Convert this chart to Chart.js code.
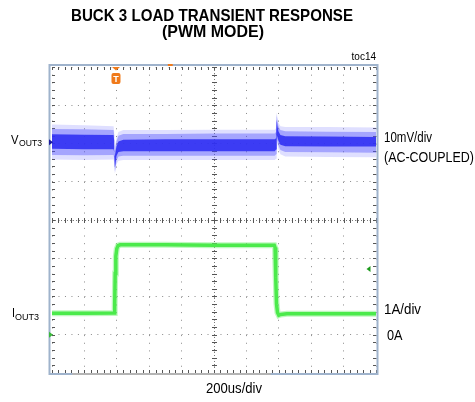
<!DOCTYPE html>
<html>
<head>
<meta charset="utf-8">
<script src="https://cdn.jsdelivr.net/npm/chart.js@4.4.1/dist/chart.umd.min.js"></script>
<style>
  body { margin: 0; background: #fff; }
  #wrap { width: 475px; height: 402px; }
</style>
</head>
<body>
<div id="wrap"><canvas id="scope" width="475" height="402"></canvas></div>
<script>
// --- DATA (time in us, 200us/div; y in screen divisions, 8 div tall) ---
const blueTime   = [0, 200, 380, 384, 388, 392, 398, 410, 440, 700, 1000, 1375, 1383, 1387, 1391, 1398, 1410, 1440, 1700, 2000];
const blueFuzzHi = [2.50, 2.48, 2.45, 2.30, 1.95, 2.00, 2.15, 2.30, 2.35, 2.35, 2.36, 2.36, 2.40, 2.82, 2.70, 2.55, 2.45, 2.43, 2.43, 2.42];
const blueMidHi  = [2.38, 2.37, 2.35, 2.22, 1.82, 1.90, 2.06, 2.20, 2.25, 2.25, 2.26, 2.26, 2.30, 2.75, 2.60, 2.45, 2.35, 2.32, 2.31, 2.30];
const blueCoreHi = [2.24, 2.23, 2.22, 2.08, 1.68, 1.78, 1.93, 2.05, 2.10, 2.11, 2.11, 2.11, 2.14, 2.62, 2.47, 2.32, 2.22, 2.19, 2.18, 2.17];
const blueCoreLo = [1.86, 1.85, 1.85, 1.77, 1.37, 1.47, 1.67, 1.78, 1.80, 1.80, 1.80, 1.80, 1.84, 2.22, 2.17, 2.07, 1.97, 1.93, 1.92, 1.92];
const blueMidLo  = [1.70, 1.69, 1.70, 1.62, 1.28, 1.36, 1.55, 1.66, 1.68, 1.68, 1.68, 1.68, 1.72, 2.10, 2.07, 1.95, 1.83, 1.78, 1.77, 1.76];
const blueFuzzLo = [1.58, 1.57, 1.58, 1.50, 1.22, 1.28, 1.45, 1.55, 1.57, 1.57, 1.57, 1.57, 1.60, 2.00, 1.98, 1.85, 1.72, 1.66, 1.65, 1.64];

const greenTime = [0, 200, 384, 387, 390, 394, 400, 408, 420, 700, 1000, 1372, 1377, 1381, 1386, 1392, 1400, 1412, 1450, 1700, 2000];
const greenVal  = [-2.44, -2.44, -2.43, -2.20, -1.40, -0.95, -0.75, -0.67, -0.65, -0.65, -0.66, -0.66, -0.72, -1.50, -2.20, -2.42, -2.49, -2.47, -2.45, -2.45, -2.45];

const xTicks = [0, 200, 400, 600, 800, 1000, 1200, 1400, 1600, 1800, 2000];
const yTicks = [-4, -3, -2, -1, 0, 1, 2, 3, 4];

const pts = (xs, ys) => xs.map((x, i) => ({ x: x, y: ys[i] }));

const F = '"Liberation Sans", Arial, sans-serif';

function band(hi, lo, hiIndex, color) {
    return [
        { data: pts(blueTime, hi), borderWidth: 0, pointRadius: 0, fill: false, tension: 0 },
        { data: pts(blueTime, lo), borderWidth: 0, pointRadius: 0, fill: hiIndex, backgroundColor: color, tension: 0 }
    ];
}

// narrow-font look: draw text squeezed to a given width
function fitText(ctx, txt, x, y, font, w) {
    ctx.font = font;
    const m = ctx.measureText(txt).width;
    ctx.save();
    ctx.translate(x, y);
    ctx.scale(w / m, 1);
    ctx.textAlign = 'left';
    ctx.textBaseline = 'alphabetic';
    ctx.fillText(txt, 0, 0);
    ctx.restore();
}

// --- SCOPE DECORATION (frame, center cross, edge ticks, markers, labels) ---
const scopeDeco = {
    id: 'scopeDeco',
    beforeDatasetsDraw(chart) {
        const { ctx, chartArea: a, scales: { x, y } } = chart;
        ctx.save();
        // center cross lines
        const cx = x.getPixelForValue(1000), cy = y.getPixelForValue(0);
        ctx.strokeStyle = '#7a7a7a';
        ctx.lineWidth = 1;
        ctx.setLineDash([1, 2]);
        ctx.beginPath();
        ctx.moveTo(a.left, cy + 0.5); ctx.lineTo(a.right, cy + 0.5);
        ctx.moveTo(cx + 0.5, a.top); ctx.lineTo(cx + 0.5, a.bottom);
        ctx.stroke();
        ctx.setLineDash([]);
        ctx.strokeStyle = '#555';
        ctx.beginPath();
        for (let t = 0; t <= 2000; t += 40) {
            const px = Math.round(x.getPixelForValue(t)) + 0.5;
            ctx.moveTo(px, cy - 2); ctx.lineTo(px, cy + 3);
            ctx.moveTo(px, a.top); ctx.lineTo(px, a.top + 3);
            ctx.moveTo(px, a.bottom); ctx.lineTo(px, a.bottom - 3);
        }
        for (let v = -4; v <= 4.001; v += 0.2) {
            const py = Math.round(y.getPixelForValue(v)) + 0.5;
            ctx.moveTo(cx - 2, py); ctx.lineTo(cx + 3, py);
            ctx.moveTo(a.left, py); ctx.lineTo(a.left + 3, py);
            ctx.moveTo(a.right, py); ctx.lineTo(a.right - 3, py);
        }
        ctx.stroke();
        ctx.restore();
    },
    afterDraw(chart) {
        const { ctx, chartArea: a, scales: { x, y } } = chart;
        ctx.save();
        // frame
        ctx.strokeStyle = '#9fb3cc';
        ctx.lineWidth = 2;
        ctx.strokeRect(a.left - 2.5, a.top - 2, a.right - a.left + 4, a.bottom - a.top + 3);
        // record bar at bottom
        ctx.strokeStyle = '#b4b4b4';
        ctx.beginPath();
        ctx.moveTo(x.getPixelForValue(125), a.bottom + 1);
        ctx.lineTo(x.getPixelForValue(1350), a.bottom + 1);
        ctx.stroke();
        // trigger position mark on top
        ctx.strokeStyle = '#f07a1a';
        ctx.beginPath();
        ctx.moveTo(x.getPixelForValue(715), a.top - 2);
        ctx.lineTo(x.getPixelForValue(745), a.top - 2);
        ctx.stroke();
        // trigger "T" marker
        const tx = x.getPixelForValue(395);
        ctx.fillStyle = '#f07a1a';
        ctx.beginPath();
        ctx.moveTo(tx - 4, a.top); ctx.lineTo(tx + 4, a.top); ctx.lineTo(tx, a.top + 3.5);
        ctx.fill();
        ctx.beginPath();
        ctx.roundRect(tx - 4.5, a.top + 6, 9, 11, 2);
        ctx.fill();
        ctx.fillStyle = '#fff';
        ctx.font = 'bold 9px ' + F;
        ctx.textAlign = 'center';
        ctx.fillText('T', tx, a.top + 15);
        // channel markers
        ctx.fillStyle = '#1a1aa0';
        let py = y.getPixelForValue(2.03);
        ctx.beginPath();
        ctx.moveTo(a.left - 3, py - 3); ctx.lineTo(a.left + 1, py); ctx.lineTo(a.left - 3, py + 3);
        ctx.fill();
        ctx.fillStyle = '#3ab83a';
        py = y.getPixelForValue(-3);
        ctx.beginPath();
        ctx.moveTo(a.left - 3, py - 3); ctx.lineTo(a.left + 1, py); ctx.lineTo(a.left - 3, py + 3);
        ctx.fill();
        ctx.fillStyle = '#1c9a1c';
        py = y.getPixelForValue(-1.28);
        const rx = x.getPixelForValue(1960);
        ctx.beginPath();
        ctx.moveTo(rx - 3, py); ctx.lineTo(rx + 1, py - 3); ctx.lineTo(rx + 1, py + 3);
        ctx.fill();

        // labels
        ctx.fillStyle = '#000';
        fitText(ctx, 'BUCK 3 LOAD TRANSIENT RESPONSE', 71, 21, 'bold 16.5px ' + F, 282);
        fitText(ctx, '(PWM MODE)', 162, 37, 'bold 16.5px ' + F, 102);
        ctx.textAlign = 'right';
        ctx.font = '10px ' + F;
        ctx.fillText('toc14', 376, 60);
        fitText(ctx, 'V', 11, 144, '13px ' + F, 7.5);
        fitText(ctx, 'I', 12, 317, '13px ' + F, 3);
        fitText(ctx, 'OUT3', 19, 146, '9px ' + F, 23);
        fitText(ctx, 'OUT3', 15, 320, '9px ' + F, 24);
        fitText(ctx, '10mV/div', 384, 142, '14px ' + F, 48);
        fitText(ctx, '(AC-COUPLED)', 384, 162, '14px ' + F, 90);
        fitText(ctx, '1A/div', 384, 314, '14px ' + F, 37);
        fitText(ctx, '0A', 387, 340, '14px ' + F, 15.5);
        fitText(ctx, '200us/div', 206, 393, '14px ' + F, 56);
        ctx.restore();
    }
};

const ctx = document.getElementById('scope').getContext('2d');
const scopeChart = new Chart(ctx, {
    type: 'line',
    data: {
        datasets: [
            ...band(blueFuzzHi, blueFuzzLo, 0, 'rgba(110,110,255,0.22)'),
            ...band(blueMidHi, blueMidLo, 2, 'rgba(60,60,250,0.38)'),
            ...band(blueCoreHi, blueCoreLo, 4, 'rgba(10,10,235,0.88)'),
            { data: pts(greenTime, greenVal), borderColor: 'rgba(110,240,110,0.45)', borderWidth: 6, pointRadius: 0, fill: false, tension: 0 },
            { data: pts(greenTime, greenVal), borderColor: '#2ee62e', borderWidth: 3.5, pointRadius: 0, fill: false, tension: 0 }
        ]
    },
    options: {
        responsive: false,
        animation: false,
        events: [],
        layout: { padding: { left: 52, right: 99, top: 67, bottom: 29 } },
        plugins: { legend: { display: false }, tooltip: { enabled: false }, title: { display: false } },
        scales: {
            x: {
                type: 'linear', min: 0, max: 2000,
                afterBuildTicks: s => { s.ticks = xTicks.map(v => ({ value: v })); },
                ticks: { display: false },
                grid: { color: '#8a8a8a', lineWidth: 1, drawTicks: false },
                border: { display: false, dash: [1, 6.66] }
            },
            y: {
                type: 'linear', min: -4, max: 4,
                afterBuildTicks: s => { s.ticks = yTicks.map(v => ({ value: v })); },
                ticks: { display: false },
                grid: { color: '#8a8a8a', lineWidth: 1, drawTicks: false },
                border: { display: false, dash: [1, 5.48] }
            }
        }
    },
    plugins: [scopeDeco]
});
</script>
</body>
</html>
